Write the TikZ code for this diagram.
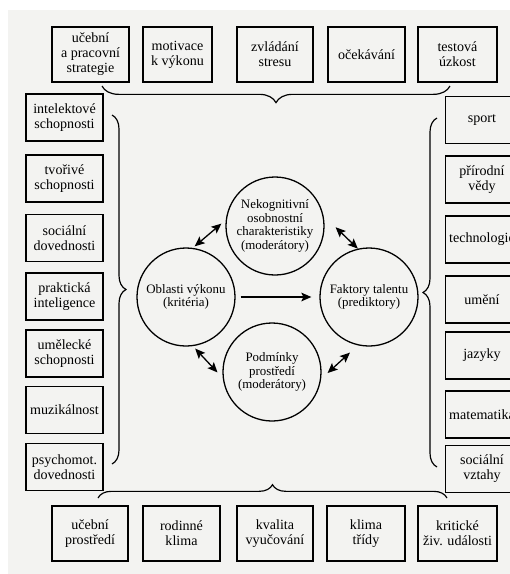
\documentclass[tikz,border=0pt]{standalone}
\usepackage{fontspec}
\setmainfont{Liberation Serif}
\usepackage{tikz}
\usetikzlibrary{arrows.meta, decorations.pathreplacing}
\definecolor{pagebg}{RGB}{243,243,241}

\begin{document}
\begin{tikzpicture}[x=0.03cm, y=-0.03cm,
    factor/.style={rectangle, draw, line width=1.3pt, minimum width=2.31cm, minimum height=1.4cm, inner sep=1pt, align=center, font=\fontsize{12}{12.8}\selectfont},
    moderator/.style={factor, minimum height=1.65cm},
    core/.style={circle, draw, line width=1.1pt, minimum size=2.94cm, inner sep=0pt, align=center, font=\fontsize{11}{11.5}\selectfont},
    link/.style={{Stealth[length=3mm, width=2.6mm, inset=0.6mm]}-{Stealth[length=3mm, width=2.6mm, inset=0.6mm]}, line width=1.1pt},
    arrow/.style={-{Stealth[length=3mm, width=2.6mm, inset=0.6mm]}, line width=1.1pt},
    group/.style={decorate, decoration={brace, amplitude=#1}, line width=1pt}
]
    \useasboundingbox (0,0) rectangle (510,574);
    \fill[pagebg] (8,10) rectangle (510,574);

    % Personality moderators
    \node[moderator] (strat) at (90.5,54.5) {učební\\a pracovní\\strategie};
    \node[moderator, minimum width=2.07cm] (motiv) at (177.5,54.5) {motivace\\k výkonu};
    \node[moderator, minimum width=2.28cm] (stres) at (275,54.5) {zvládání\\stresu};
    \node[moderator] (ocek) at (366.5,54.5) {očekávání};
    \node[moderator, minimum width=2.37cm] (uzkost) at (457.5,54.5) {testová\\úzkost};

    % Talent factors
    \node[factor] (intel) at (64.5,117.5) {intelektové\\schopnosti};
    \node[factor] (tvor) at (64.5,178.5) {tvořivé\\schopnosti};
    \node[factor] (soc) at (64.5,238) {sociální\\dovednosti};
    \node[factor] (prakt) at (64.5,296.5) {praktická\\inteligence};
    \node[factor] (umel) at (64.5,353.5) {umělecké\\schopnosti};
    \node[factor] (muzik) at (64.5,410) {muzikálnost};
    \node[factor] (psycho) at (64.5,467) {psychomot.\\dovednosti};

    % Performance domains
    \node[factor, minimum width=2.2cm] (sport) at (482,120) {sport};
    \node[factor, minimum width=2.2cm] (prir) at (482,179.5) {přírodní\\vědy};
    \node[factor, minimum width=2.2cm] (tech) at (482,239.5) {technologie};
    \node[factor, minimum width=2.2cm] (umeni) at (482,299.5) {umění};
    \node[factor, minimum width=2.2cm] (jazyky) at (482,355.5) {jazyky};
    \node[factor, minimum width=2.2cm] (mat) at (482,414.5) {matematika};
    \node[factor, minimum width=2.2cm] (vztahy) at (482,469) {sociální\\vztahy};

    % Environmental moderators
    \node[moderator, minimum width=2.28cm] (ucprost) at (90,533.5) {učební\\prostředí};
    \node[moderator] (rodina) at (181.5,533.5) {rodinné\\klima};
    \node[moderator, minimum width=2.28cm] (kvalita) at (275,533.5) {kvalita\\vyučování};
    \node[moderator, minimum width=2.34cm] (klima) at (366,533.5) {klima\\třídy};
    \node[moderator, minimum width=2.37cm] (udalosti) at (457.5,533.5) {kritické\\živ. události};

    % Model
    \node[core] (nekog) at (275,226) {Nekognitivní\\osobnostní\\charakteristiky\\(moderátory)};
    \node[core] (oblasti) at (186,297) {Oblasti výkonu\\(kritéria)};
    \node[core] (faktory) at (369,297) {Faktory talentu\\(prediktory)};
    \node[core] (podminky) at (272,372) {Podmínky\\prostředí\\(moderátory)};

    % Arrows
    \draw[link, shorten <=0.7mm, shorten >=1.7mm] (oblasti.82) -- (nekog.173);
    \draw[link, shorten <=5mm] (nekog.12) -- (faktory.103);
    \draw[arrow, shorten <=1.5mm, shorten >=2.4mm] (oblasti.east) -- (faktory.west);
    \draw[link, shorten <=1mm, shorten >=2.3mm] (oblasti.-82) -- (podminky.187);
    \draw[link, shorten <=2.6mm, shorten >=3.2mm] (podminky.-8) -- (faktory.-103);

    % Braces
    \draw[group=5mm] (450,86) -- (102,86);
    \draw[group=4mm] (98,498) -- (447,498);
    \draw[group=4.2mm] (112,115) -- (112,464);
    \draw[group=4.2mm] (437,467) -- (437,118);
\end{tikzpicture}
\end{document}
